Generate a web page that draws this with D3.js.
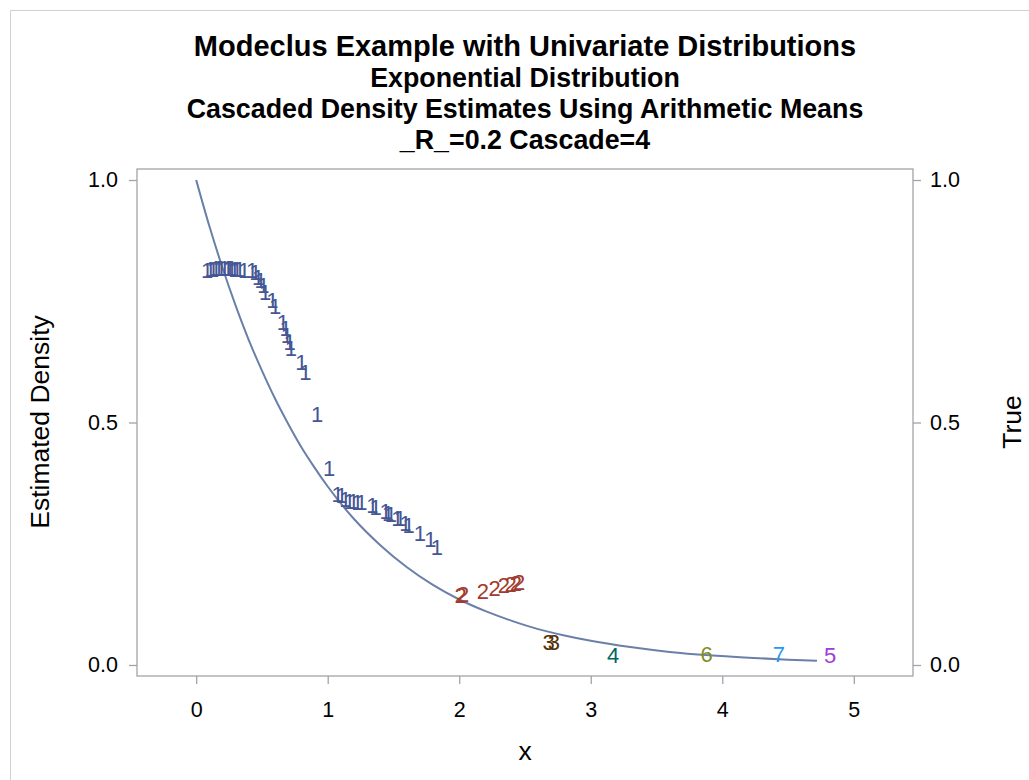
<!DOCTYPE html>
<html><head><meta charset="utf-8">
<script src="https://cdn.jsdelivr.net/npm/d3@7"></script>
<style>body{margin:0;background:#fff;font-family:"Liberation Sans",Arial,sans-serif;}</style>
</head><body>
<svg id="c" width="1029" height="780"></svg>
<script>
// ---- data ----
const titleLines = ["Modeclus Example with Univariate Distributions","Exponential Distribution","Cascaded Density Estimates Using Arithmetic Means","_R_=0.2 Cascade=4"];
const xTicks = [0,1,2,3,4,5];
const yTicks = [0.0,0.5,1.0];
// cluster labels, x values, estimated density values
const clusterLabel = [
 "1","1","1","1","1","1","1","1","1","1","1","1","1","1",
 "1","1","1","1","1","1","1","1","1","1","1","1","1","1","1","1","1","1",
 "1","1","1","1","1","1","1","1","1","1","1","1","1","1","1","1","1","1",
 "2","2","2","2","2","2","2","2",
 "3","3","4","6","7","5"];
const xVal = [
 0.084,0.107,0.129,0.150,0.170,0.190,0.215,0.240,0.255,0.270,0.290,0.310,0.330,0.365,
 0.425,0.450,0.470,0.490,0.510,0.525,0.580,0.600,0.660,0.680,0.690,0.710,0.720,0.800,0.830,0.920,1.010,1.075,
 1.105,1.135,1.165,1.195,1.225,1.255,1.340,1.365,1.440,1.460,1.480,1.530,1.550,1.590,1.700,1.780,1.830,1.615,
 2.010,2.030,2.180,2.270,2.340,2.390,2.430,2.455,
 2.680,2.720,3.170,3.880,4.430,4.820];
const estDensity = [
 0.815,0.816,0.817,0.818,0.818,0.819,0.819,0.818,0.818,0.818,0.817,0.817,0.816,0.815,
 0.814,0.810,0.800,0.793,0.783,0.769,0.752,0.740,0.707,0.694,0.680,0.665,0.653,0.624,0.603,0.517,0.405,0.353,
 0.351,0.343,0.339,0.339,0.335,0.335,0.329,0.326,0.318,0.314,0.312,0.302,0.302,0.293,0.273,0.260,0.244,0.288,
 0.145,0.146,0.153,0.159,0.165,0.167,0.169,0.170,
 0.0475,0.0475,0.0207,0.0227,0.0227,0.0207];
const clusterIds = ["1","2","3","4","5","6","7"];
const clusterColors = ["#445694","#A23A2E","#543005","#01665E","#9D3CDB","#7F8E1F","#2597FA"];
// true density curve exp(-x)
const trueX = [0,0.1,0.2,0.3,0.4,0.5,0.6,0.7,0.8,0.9,1.0,1.2,1.4,1.6,1.8,2.0,2.2,2.4,2.6,2.8,3.0,3.3,3.6,3.9,4.2,4.5,4.72];
const trueY = [1.000,0.905,0.819,0.741,0.670,0.607,0.549,0.497,0.449,0.407,0.368,0.301,0.247,0.202,0.165,0.135,0.111,0.091,0.074,0.061,0.050,0.037,0.027,0.020,0.015,0.011,0.009];

// ---- layout ----
const svg = d3.select("#c");
const L=137, R=913, T=169, B=676;
const x = d3.scaleLinear().domain([-0.45,5.45]).range([L,R]);
const y = d3.scaleLinear().domain([-0.0227,1.0227]).range([B,T]);
const color = d3.scaleOrdinal().domain(clusterIds).range(clusterColors);

// page border
svg.append("path").attr("d","M10.5,780 L10.5,10.5 L1029,10.5").attr("fill","none").attr("stroke","#d0d0d0");

// titles
const tsz=[29,26.8,26.8,26.8], ty=[56,87,118,149];
titleLines.forEach((t,i)=>svg.append("text").attr("x",525).attr("y",ty[i]).attr("text-anchor","middle")
  .attr("font-weight","bold").attr("font-size",tsz[i]).attr("fill","#000").text(t));

// frame
svg.append("rect").attr("x",L).attr("y",T).attr("width",R-L).attr("height",B-T).attr("fill","none").attr("stroke","#a0a4a8").attr("stroke-width",1.3);

// axes
const axStyle = g=>{g.select(".domain").remove();g.selectAll("line").attr("stroke","#a0a4a8").attr("stroke-width",1.3);
  g.selectAll("text").attr("font-size",21.5).attr("fill","#000").attr("font-family","'Liberation Sans',Arial,sans-serif");};
svg.append("g").attr("transform",`translate(0,${B})`).call(d3.axisBottom(x).tickValues(xTicks).tickFormat(d3.format("d")).tickSize(8).tickPadding(18)).call(axStyle);
svg.append("g").attr("transform",`translate(${L},0)`).call(d3.axisLeft(y).tickValues(yTicks).tickFormat(d3.format(".1f")).tickSize(8).tickPadding(11)).call(axStyle);
svg.append("g").attr("transform",`translate(${R},0)`).call(d3.axisRight(y).tickValues(yTicks).tickFormat(d3.format(".1f")).tickSize(8).tickPadding(9)).call(axStyle);

// axis labels
svg.append("text").attr("x",525).attr("y",760).attr("text-anchor","middle").attr("font-size",26.5).text("x");
svg.append("text").attr("transform","translate(49,422) rotate(-90)").attr("text-anchor","middle").attr("font-size",26.5).text("Estimated Density");
svg.append("text").attr("transform","translate(1021,422) rotate(-90)").attr("text-anchor","middle").attr("font-size",26.5).text("True");

// true curve
svg.append("path").datum(d3.zip(trueX,trueY)).attr("fill","none").attr("stroke","#6A80A8").attr("stroke-width",2)
  .attr("d",d3.line().x(d=>x(d[0])).y(d=>y(d[1])).curve(d3.curveMonotoneX));

// cluster label markers
svg.append("g").selectAll("text").data(d3.range(xVal.length)).join("text")
  .attr("x",i=>x(xVal[i])).attr("y",i=>y(estDensity[i])).attr("dy","0.36em")
  .attr("text-anchor","middle").attr("font-size",22).attr("fill",i=>color(clusterLabel[i]))
  .text(i=>clusterLabel[i]);
</script>
</body></html>
